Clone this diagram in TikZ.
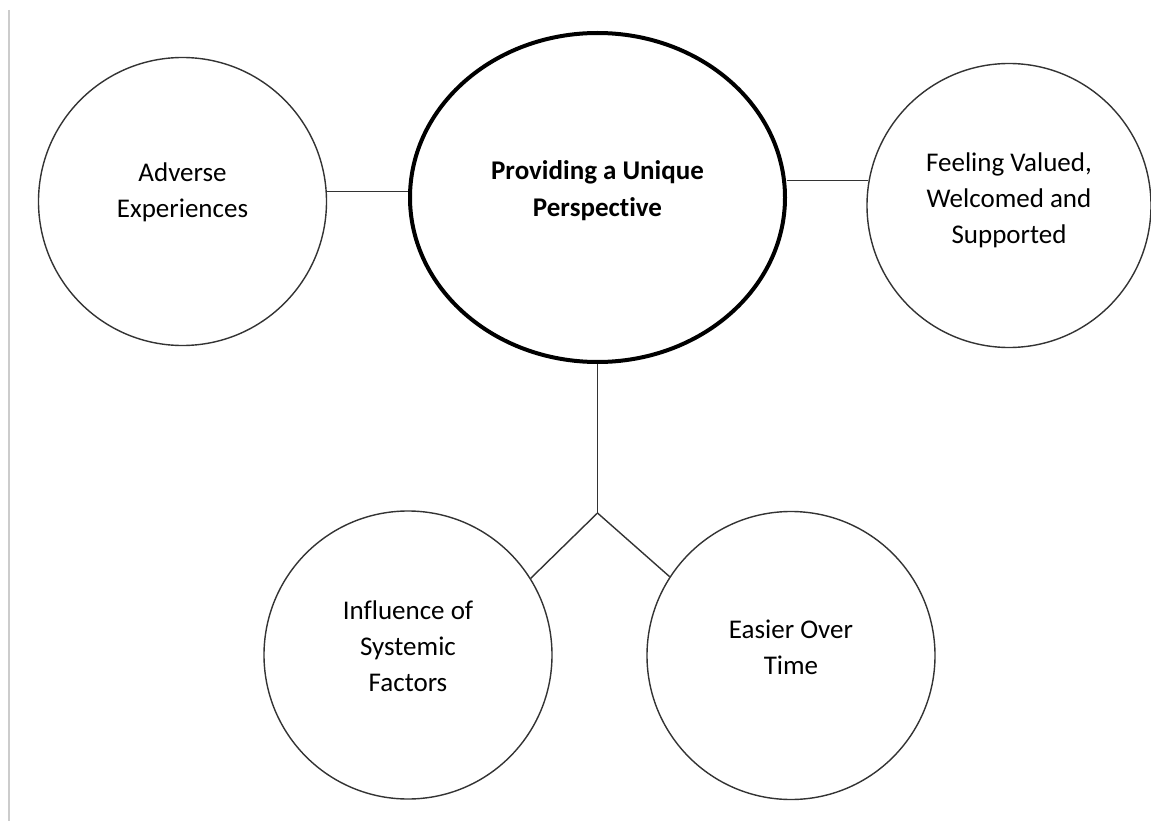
\documentclass[tikz,border=0pt]{standalone}
\usepackage{fontspec}
\setmainfont{Carlito}[Ligatures=NoCommon]
\usetikzlibrary{shapes.geometric}

\tikzset{
  theme/.style={circle, draw=black!80, line width=1.4pt, minimum size=288pt, inner sep=0pt},
  core/.style={ellipse, draw=black, line width=4pt, minimum width=375pt, minimum height=329pt, inner sep=0pt},
  words/.style={align=center, inner sep=0pt, font=\fontsize{27}{36}\selectfont},
  link/.style={draw=black!80, line width=1.4pt},
}

\begin{document}
\begin{tikzpicture}[x=1pt, y=-1pt]
    \useasboundingbox (0,0) rectangle (1151,821);
    \draw[gray!40, line width=1.5pt] (9,10) -- (9,821);

    \node[core] (centre) at (597.5,197.5) {};
    \node[theme] (adv) at (182.5,201.5) {};
    \node[theme, minimum size=284pt] (feel) at (1009,205.5) {};
    \node[theme] (infl) at (408,655) {};
    \node[theme] (easy) at (791,655.5) {};

    \node[words, font=\fontsize{27}{37}\selectfont\bfseries] (centre-t) at ([yshift=7pt]centre.center) {Providing a Unique\\Perspective};
    \node[words] (adv-t) at ([yshift=9pt]adv.center) {Adverse\\Experiences};
    \node[words] (feel-t) at ([yshift=5pt]feel.center) {Feeling Valued,\\Welcomed and\\Supported};
    \node[words] (infl-t) at ([yshift=9pt]infl.center) {Influence of\\Systemic\\Factors};
    \node[words] (easy-t) at ([yshift=8pt]easy.center) {Easier Over\\Time};

    \coordinate (fork) at (597.5,513);

    \draw[link] (adv.4) -- (adv.4 -| centre.west);
    \draw[link] (feel.170) -- (feel.170 -| centre.east);
    \draw[link] (centre.south) -- (fork);
    \draw[link] (fork) -- (infl.32);
    \draw[link] (fork) -- (easy.147);
\end{tikzpicture}
\end{document}
